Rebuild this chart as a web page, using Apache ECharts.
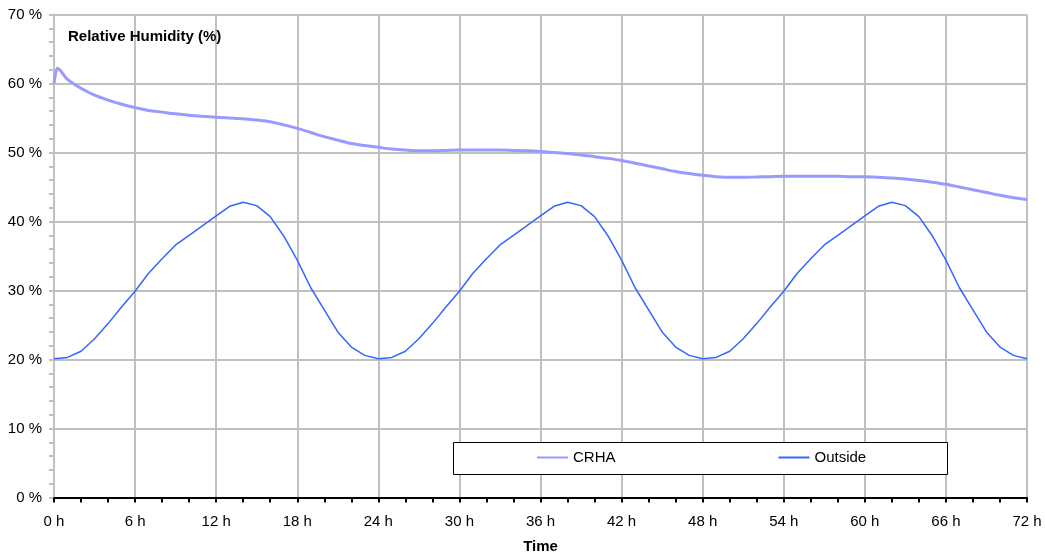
<!DOCTYPE html>
<html>
<head>
<meta charset="utf-8">
<script src="https://cdn.jsdelivr.net/npm/echarts@6/dist/echarts.min.js"></script>
<style>
html,body{margin:0;padding:0;background:#fff;}
#chart{width:1045px;height:556px;}
</style>
</head>
<body>
<div id="chart"></div>
<script>
// Data
var chartTitle = 'Relative Humidity (%)';
var xAxisName = 'Time';
var seriesNames = ['CRHA', 'Outside'];

// CRHA: time (h) and relative humidity (%)
var crhaHours = [0, 0.25, 0.5, 1, 2, 3, 4, 5, 6, 7, 8, 9, 10, 11, 12, 13, 14, 15, 16, 17, 18, 19, 20, 21, 22, 23, 24,
  25, 26, 27, 28, 29, 30, 31, 32, 33, 34, 35, 36, 37, 38, 39, 40, 41, 42, 43, 44, 45, 46, 47, 48,
  49, 50, 51, 52, 53, 54, 55, 56, 57, 58, 59, 60, 61, 62, 63, 64, 65, 66, 67, 68, 69, 70, 71, 72];
var crhaValues = [60.0, 62.2, 61.8, 60.6, 59.3, 58.3, 57.6, 57.0, 56.5, 56.1, 55.85, 55.6, 55.4, 55.25, 55.1, 55.0, 54.9, 54.7, 54.45, 54.0, 53.5, 52.9, 52.3, 51.8, 51.3, 51.0, 50.75,
  50.5, 50.35, 50.25, 50.25, 50.3, 50.35, 50.35, 50.35, 50.35, 50.3, 50.25, 50.15, 50.0, 49.85, 49.65, 49.4, 49.15, 48.85, 48.45, 48.05, 47.65, 47.25, 46.95, 46.7,
  46.5, 46.4, 46.4, 46.45, 46.5, 46.55, 46.55, 46.55, 46.55, 46.55, 46.5, 46.5, 46.4, 46.3, 46.15, 45.95, 45.7, 45.4, 45.0, 44.6, 44.2, 43.8, 43.45, 43.2];

// Outside: hourly values 0 h .. 72 h
var outsideHours = [0, 1, 2, 3, 4, 5, 6, 7, 8, 9, 10, 11, 12, 13, 14, 15, 16, 17, 18, 19, 20, 21, 22, 23,
  24, 25, 26, 27, 28, 29, 30, 31, 32, 33, 34, 35, 36, 37, 38, 39, 40, 41, 42, 43, 44, 45, 46, 47,
  48, 49, 50, 51, 52, 53, 54, 55, 56, 57, 58, 59, 60, 61, 62, 63, 64, 65, 66, 67, 68, 69, 70, 71, 72];
var outsideValues = [20.1, 20.3, 21.2, 23.0, 25.2, 27.6, 29.9, 32.5, 34.6, 36.6, 38.0, 39.4, 40.8, 42.2, 42.8, 42.3, 40.7, 37.9, 34.4, 30.4, 27.2, 24.0, 21.8, 20.6,
  20.1, 20.3, 21.2, 23.0, 25.2, 27.6, 29.9, 32.5, 34.6, 36.6, 38.0, 39.4, 40.8, 42.2, 42.8, 42.3, 40.7, 37.9, 34.4, 30.4, 27.2, 24.0, 21.8, 20.6,
  20.1, 20.3, 21.2, 23.0, 25.2, 27.6, 29.9, 32.5, 34.6, 36.6, 38.0, 39.4, 40.8, 42.2, 42.8, 42.3, 40.7, 37.9, 34.4, 30.4, 27.2, 24.0, 21.8, 20.6, 20.1];

function pairs(xs, ys) {
  var out = [];
  for (var i = 0; i < xs.length; i++) out.push([xs[i], ys[i]]);
  return out;
}

var FONT = '"Liberation Sans", Arial, sans-serif';
var chart = echarts.init(document.getElementById('chart'), null, {renderer: 'canvas'});
chart.setOption({
  animation: false,
  backgroundColor: '#ffffff',
  title: {
    text: chartTitle,
    left: 68, top: 29, padding: 0,
    textStyle: {fontFamily: FONT, fontSize: 15, fontWeight: 'bold', color: '#000'}
  },
  grid: {left: 54, right: 18, top: 14.5, bottom: 58.5, containLabel: false, outerBoundsMode: 'none'},
  xAxis: {
    type: 'value', min: 0, max: 72, interval: 6,
    name: xAxisName, nameLocation: 'middle', nameGap: 42,
    nameTextStyle: {fontFamily: FONT, fontSize: 15, fontWeight: 'bold', color: '#000'},
    axisLine: {show: true, onZero: false, lineStyle: {color: '#000', width: 2}},
    axisTick: {show: true, length: 5, lineStyle: {color: '#000', width: 2}},
    minorTick: {show: true, splitNumber: 3, length: 5, lineStyle: {color: '#000', width: 2}},
    axisLabel: {formatter: '{value} h', fontFamily: FONT, fontSize: 15, color: '#000', margin: 17},
    splitLine: {show: true, lineStyle: {color: '#c0c0c0', width: 2}}
  },
  yAxis: {
    type: 'value', min: 0, max: 70, interval: 10,
    axisLine: {show: true, lineStyle: {color: '#c0c0c0', width: 2}},
    axisTick: {show: true, length: 5, lineStyle: {color: '#c0c0c0', width: 2}},
    minorTick: {show: true, splitNumber: 5, length: 5, lineStyle: {color: '#c0c0c0', width: 2}},
    axisLabel: {formatter: '{value} %', fontFamily: FONT, fontSize: 15, color: '#000', margin: 12},
    splitLine: {show: true, lineStyle: {color: '#c0c0c0', width: 2}}
  },
  graphic: [{
    type: 'rect', left: 453, top: 442, z: 5,
    shape: {width: 494, height: 32},
    style: {fill: '#fff', stroke: '#000', lineWidth: 1}
  }],
  legend: {
    left: 537, top: 450, z: 10, padding: 0,
    itemWidth: 31, itemHeight: 14, itemGap: 163,
    icon: 'path://M0,6 L31,6 L31,8 L0,8 Z',
    textStyle: {fontFamily: FONT, fontSize: 15, color: '#000'},
    data: seriesNames
  },
  series: [{
    name: seriesNames[0], type: 'line', symbol: 'none', smooth: 0.3, z: 3,
    lineStyle: {color: '#9999ff', width: 3}, itemStyle: {color: '#9999ff'},
    data: pairs(crhaHours, crhaValues)
  }, {
    name: seriesNames[1], type: 'line', symbol: 'none', smooth: false, z: 4,
    lineStyle: {color: '#3366ff', width: 1.5}, itemStyle: {color: '#3366ff'},
    data: pairs(outsideHours, outsideValues)
  }]
});
</script>
</body>
</html>
